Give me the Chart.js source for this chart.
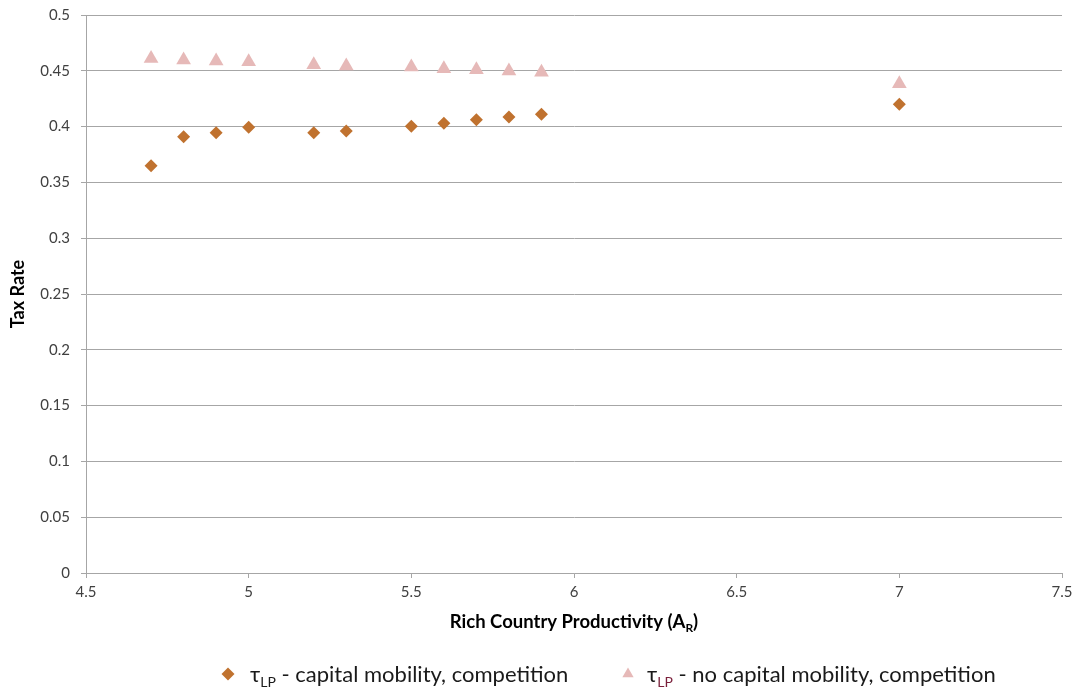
<!DOCTYPE html>
<html>
<head>
<meta charset="utf-8">
<script src="https://cdn.jsdelivr.net/npm/chart.js@4/dist/chart.umd.min.js"></script>
<style>
  html, body { margin: 0; padding: 0; background: #ffffff; }
  #wrap { width: 1078px; height: 696px; position: relative; }
</style>
</head>
<body>
<div id="wrap"><canvas id="c" width="1078" height="696"></canvas></div>
<script>
// Rich country productivity levels (A_R)
const productivity = [4.7, 4.8, 4.9, 5.0, 5.2, 5.3, 5.5, 5.6, 5.7, 5.8, 5.9, 7.0];
// Labour-tax rate with capital mobility and competition
const taxMobility = [0.365, 0.391, 0.3946, 0.3994, 0.3946, 0.396, 0.4003, 0.403, 0.4062, 0.4086, 0.411, 0.420];
// Labour-tax rate without capital mobility, with competition
const taxNoMobility = [0.461, 0.4597, 0.4588, 0.458, 0.4555, 0.4543, 0.4534, 0.4519, 0.4509, 0.4498, 0.4487, 0.4385];
// Axis tick values
const yTicks = [0, 0.05, 0.1, 0.15, 0.2, 0.25, 0.3, 0.35, 0.4, 0.45, 0.5];
const xTicks = [4.5, 5, 5.5, 6, 6.5, 7, 7.5];

const legendNames = [
  { sym: 'τ', sub: 'LP', rest: ' - capital mobility, competition' },
  { sym: 'τ', sub: 'LP', rest: ' - no capital mobility, competition' }
];

const FONT = 'Lato, "Open Sans", "Liberation Sans", sans-serif';
const TEXT = '#404040';
const GRID = '#a6a6a6';
const C1 = '#c0722f';
const C2 = '#e6b9b8';

const toPoints = (xs, ys) => xs.map((x, i) => ({ x, y: ys[i] }));

function drawMarker(ctx, style, x, y, r, color) {
  ctx.save();
  ctx.fillStyle = color;
  ctx.beginPath();
  if (style === 'rectRot') {
    ctx.moveTo(x - r, y); ctx.lineTo(x, y - r); ctx.lineTo(x + r, y); ctx.lineTo(x, y + r);
  } else {
    ctx.moveTo(x, y - r); ctx.lineTo(x + r * 0.866, y + r * 0.5); ctx.lineTo(x - r * 0.866, y + r * 0.5);
  }
  ctx.closePath();
  ctx.fill();
  ctx.restore();
}

// Draws text with a subscript part: main, sub, tail
function drawSubText(ctx, x, y, main, sub, tail, size, weight, color, subColor) {
  ctx.save();
  ctx.fillStyle = color;
  ctx.textBaseline = 'alphabetic';
  ctx.textAlign = 'left';
  ctx.font = weight + ' ' + size + 'px ' + FONT;
  ctx.fillText(main, x, y);
  let cx = x + ctx.measureText(main).width;
  const subSize = Math.round(size * 0.65);
  ctx.font = weight + ' ' + subSize + 'px ' + FONT;
  ctx.fillStyle = subColor || color;
  ctx.fillText(sub, cx, y + size * 0.22);
  cx += ctx.measureText(sub).width;
  ctx.font = weight + ' ' + size + 'px ' + FONT;
  ctx.fillStyle = color;
  ctx.fillText(tail, cx, y);
  ctx.restore();
}

function subTextWidth(ctx, main, sub, tail, size, weight) {
  ctx.save();
  ctx.font = weight + ' ' + size + 'px ' + FONT;
  let w = ctx.measureText(main).width + ctx.measureText(tail).width;
  ctx.font = weight + ' ' + Math.round(size * 0.65) + 'px ' + FONT;
  w += ctx.measureText(sub).width;
  ctx.restore();
  return w;
}

const annotations = {
  id: 'annotations',
  afterDraw(chart) {
    const ctx = chart.ctx;
    const area = chart.chartArea;
    // Y axis title
    ctx.save();
    ctx.translate(18, (area.top + area.bottom) / 2);
    ctx.rotate(-Math.PI / 2);
    ctx.font = 'bold 18px ' + FONT;
    ctx.fillStyle = '#000';
    ctx.textAlign = 'center';
    ctx.textBaseline = 'middle';
    ctx.fillText('Tax Rate', 0, 0);
    ctx.restore();

    // X axis title with subscript
    const tw = subTextWidth(ctx, 'Rich Country Productivity (A', 'R', ')', 18.5, 'bold');
    const cx = (area.left + area.right) / 2;
    drawSubText(ctx, cx - tw / 2, 628, 'Rich Country Productivity (A', 'R', ')', 18.5, 'bold', '#000');

    // Legend
    const sets = chart.data.datasets;
    const lx = [228, 628];
    const tx = [250, 647];
    sets.forEach((ds, i) => {
      drawMarker(ctx, ds.pointStyle, lx[i], 674, 6.5, ds.backgroundColor);
      const n = legendNames[i];
      drawSubText(ctx, tx[i], 682, n.sym, n.sub, n.rest, 22, 'normal', '#1a1a1a', i === 0 ? '#1a1a1a' : '#7a1f3a');
    });
  }
};

new Chart(document.getElementById('c'), {
  type: 'scatter',
  data: {
    datasets: [
      {
        label: 'τLP - capital mobility, competition',
        data: toPoints(productivity, taxMobility),
        pointStyle: 'rectRot',
        pointRadius: 6.5,
        pointHoverRadius: 6.5,
        backgroundColor: C1,
        borderColor: C1,
        borderWidth: 0
      },
      {
        label: 'τLP - no capital mobility, competition',
        data: toPoints(productivity, taxNoMobility),
        pointStyle: 'triangle',
        pointRadius: 8.5,
        pointHoverRadius: 8.5,
        backgroundColor: C2,
        borderColor: C2,
        borderWidth: 0
      }
    ]
  },
  options: {
    responsive: false,
    animation: false,
    layout: { padding: { top: 15, right: 16, left: 0, bottom: 0 } },
    plugins: {
      legend: { display: false },
      tooltip: { enabled: false },
      title: { display: false }
    },
    scales: {
      x: {
        type: 'linear',
        min: xTicks[0],
        max: xTicks[xTicks.length - 1],
        afterBuildTicks(scale) { scale.ticks = xTicks.map(v => ({ value: v })); },
        afterFit(scale) { scale.height = 123; scale.paddingLeft = 0; scale.paddingRight = 0; },
        ticks: {
          font: { family: FONT, size: 15 },
          color: TEXT,
          padding: 5,
          maxRotation: 0,
          callback: v => String(v)
        },
        grid: { drawOnChartArea: false, color: GRID, tickLength: 5, lineWidth: 1 },
        border: { color: GRID, width: 1 }
      },
      y: {
        type: 'linear',
        min: yTicks[0],
        max: yTicks[yTicks.length - 1],
        afterBuildTicks(scale) { scale.ticks = yTicks.map(v => ({ value: v })); },
        afterFit(scale) { scale.width = 86; scale.paddingTop = 0; scale.paddingBottom = 0; },
        ticks: {
          font: { family: FONT, size: 15 },
          color: TEXT,
          padding: 11,
          callback: v => String(parseFloat(v.toFixed(2)))
        },
        grid: { color: GRID, tickLength: 5, lineWidth: 1 },
        border: { color: GRID, width: 1 }
      }
    }
  },
  plugins: [annotations]
});
</script>
</body>
</html>
